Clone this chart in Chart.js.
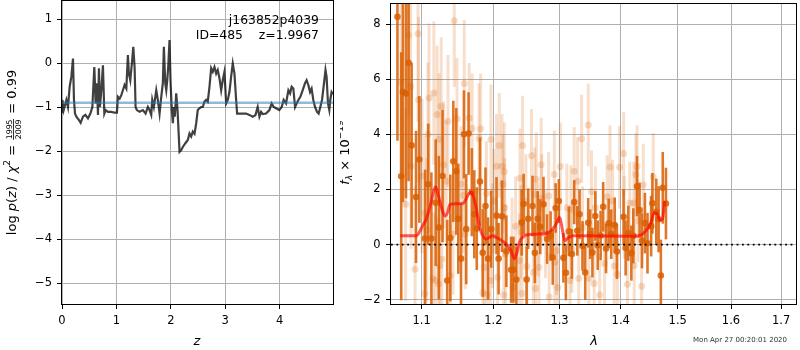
<!DOCTYPE html>
<html>
<head>
<meta charset="utf-8">
<script src="https://cdn.jsdelivr.net/npm/chart.js@4.4.0/dist/chart.umd.min.js"></script>
<style>
  html, body { margin: 0; padding: 0; background: #fff; }
  #wrap { position: relative; width: 800px; height: 350px; }
  #pz { position: absolute; left: 0; top: 0; }
  #spec { position: absolute; left: 340px; top: 0; }
</style>
</head>
<body>
<div id="wrap">
  <canvas id="pz" width="340" height="350"></canvas>
  <canvas id="spec" width="460" height="350"></canvas>
</div>
<script>
// ========== DATA: redshift fit ==========
const zRange = [0, 4.98];
const logPzRange = [-5.47, 1.42];
const zTicks = [0, 1, 2, 3, 4];
const logPzTicks = [1, 0, -1, -2, -3, -4, -5];

const zGrid = [
  0.000, 0.007, 0.031, 0.081, 0.110, 0.141, 0.172, 0.202, 0.220, 0.239,
  0.264, 0.312, 0.343, 0.385, 0.429, 0.477, 0.521, 0.558, 0.576, 0.594,
  0.618, 0.642, 0.661, 0.679, 0.697, 0.723, 0.752, 0.778, 0.802, 0.844,
  0.906, 0.967, 1.009, 1.028, 1.059, 1.090, 1.119, 1.150, 1.182, 1.211,
  1.229, 1.255, 1.292, 1.310, 1.334, 1.352, 1.376, 1.426, 1.486, 1.536,
  1.578, 1.609, 1.640, 1.659, 1.688, 1.732, 1.761, 1.793, 1.824, 1.853,
  1.872, 1.897, 1.916, 1.934, 1.952, 1.976, 1.994, 2.018, 2.037, 2.055,
  2.073, 2.099, 2.123, 2.160, 2.191, 2.220, 2.264, 2.312, 2.343, 2.374,
  2.404, 2.435, 2.466, 2.495, 2.527, 2.558, 2.587, 2.618, 2.650, 2.679,
  2.710, 2.741, 2.771, 2.802, 2.833, 2.862, 2.894, 2.925, 2.954, 2.985,
  3.017, 3.046, 3.077, 3.108, 3.138, 3.169, 3.200, 3.218, 3.261, 3.321,
  3.383, 3.444, 3.505, 3.554, 3.596, 3.628, 3.659, 3.688, 3.750, 3.811,
  3.853, 3.890, 3.934, 3.994, 4.037, 4.073, 4.117, 4.160, 4.191, 4.220,
  4.251, 4.283, 4.312, 4.343, 4.380, 4.422, 4.466, 4.495, 4.527, 4.558,
  4.587, 4.618, 4.650, 4.686, 4.716, 4.747, 4.778, 4.807, 4.842, 4.862,
  4.888, 4.912, 4.930, 4.954, 4.980
];
const logPz = [
  -1.10, -0.83, -1.06, -0.83, -0.99, -0.53, -0.30, 0.11, -0.83, -1.14,
  -1.21, -1.29, -1.35, -1.21, -1.17, -1.25, -1.14, -0.99, -0.53, -0.08,
  -0.91, -0.45, -1.17, -0.11, -0.99, -0.61, -0.04, -1.14, -1.06, -1.10,
  -1.10, -1.12, -1.12, -0.76, -0.80, -0.72, -0.61, -0.49, -0.57, 0.19,
  -0.23, -0.38, 0.11, 0.38, -0.08, -0.99, -1.06, -1.10, -1.06, -1.14,
  -0.99, -1.06, -1.17, -0.83, -0.99, -0.61, -0.83, -1.14, -0.76, -0.45,
  0.38, -0.45, -0.61, -0.38, -0.08, 0.53, -0.38, -1.06, -1.36, -0.99,
  -1.21, -0.68, -1.06, -2.01, -1.97, -1.90, -1.82, -1.74, -1.59, -1.66,
  -1.55, -1.60, -1.36, -1.06, -1.02, -0.99, -0.99, -0.87, -0.83, -0.87,
  -0.53, -0.11, -0.19, -0.08, -0.23, -0.15, -0.34, -0.61, -0.38, -0.19,
  -0.91, -0.83, -0.65, -0.30, 0.00, -0.23, -0.83, -1.14, -1.14, -1.14,
  -1.14, -1.17, -1.21, -1.18, -0.99, -1.21, -1.10, -1.15, -1.14, -1.06,
  -0.91, -0.99, -1.02, -1.06, -0.99, -0.83, -0.91, -0.61, -0.68, -0.53,
  -0.57, -0.99, -0.91, -0.83, -0.76, -0.61, -0.45, -0.38, -0.49, -0.65,
  -0.57, -0.83, -0.99, -1.10, -1.14, -0.99, -0.83, -0.53, -0.15, -0.30,
  -0.91, -1.06, -0.83, -0.65, -0.70
];
const chi2Level = -0.895;

// ========== DATA: spectrum ==========
const waveRange = [1.06, 1.731];
const fluxRange = [-2.155, 8.73];
const waveTicks = [1.1, 1.2, 1.3, 1.4, 1.5, 1.6, 1.7];
const fluxTicks = [-2, 0, 2, 4, 6, 8];

// main extraction
const specWave = [
  1.0683, 1.0732, 1.0754, 1.0794, 1.0828, 1.0868, 1.0926, 1.0970, 1.1047, 1.1089,
  1.1131, 1.1190, 1.1232, 1.1283, 1.1347, 1.1389, 1.1431, 1.1472, 1.1500, 1.1538,
  1.1579, 1.1611, 1.1644, 1.1690, 1.1725, 1.1760, 1.1806, 1.1845, 1.1885, 1.1922,
  1.1968, 1.2045, 1.2075, 1.2125, 1.2189, 1.2259, 1.2294, 1.2338, 1.2417, 1.2447,
  1.2492, 1.2517, 1.2581, 1.2617, 1.2661, 1.2700, 1.2750, 1.2805, 1.2860, 1.2894,
  1.2939, 1.2989, 1.3061, 1.3100, 1.3148, 1.3196, 1.3233, 1.3282, 1.3319, 1.3367,
  1.3411, 1.3459, 1.3491, 1.3528, 1.3576, 1.3615, 1.3663, 1.3705, 1.3753, 1.3797,
  1.3840, 1.3898, 1.3935, 1.4048, 1.4083, 1.4129, 1.4181, 1.4215, 1.4279, 1.4323,
  1.4365, 1.4416, 1.4461, 1.4525, 1.4547, 1.4616, 1.4657, 1.4697, 1.4731, 1.4788
];
const specFlux = [
  8.27, 2.48, 5.54, 5.48, 6.60, 3.60, 1.73, 3.09, 0.22, 2.19,
  0.22, 1.52, 0.62, 2.49, -1.30, 0.24, 3.02, 2.66, 0.94, -0.51,
  4.00, 0.56, 4.03, 1.90, 1.10, 0.58, 2.29, -0.30, 1.40, -0.51,
  0.56, 1.05, -0.51, 1.03, -0.24, -0.91, -0.91, -1.27, 0.80, 1.47,
  -1.27, 0.94, 1.40, -0.30, 0.94, 0.65, 1.46, 0.20, 0.31, -0.46,
  1.33, 1.58, -0.48, -1.02, 0.48, -0.34, 1.54, 0.50, 1.10, -0.05,
  -1.01, 0.79, 0.38, -0.29, 1.04, -0.02, 0.33, 1.37, -0.14, 0.77,
  0.38, 0.71, -0.25, 1.01, -0.12, 0.41, -0.31, 0.32, 2.12, 1.25,
  0.14, 0.78, 0.05, 0.67, 1.50, 1.19, 0.92, -1.12, 2.06, 1.49
];
const specErr = [
  4.5, 4.5, 4.0, 3.8, 4.3, 3.0, 2.4, 2.3, 2.5, 2.2,
  2.4, 2.3, 2.6, 2.4, 2.2, 2.3, 2.2, 2.3, 2.0, 2.0,
  1.6, 2.0, 1.5, 1.6, 1.6, 1.5, 1.6, 1.6, 1.4, 1.5,
  1.4, 1.4, 1.3, 1.3, 1.3, 1.2, 1.2, 1.2, 1.2, 1.1,
  1.2, 1.1, 1.1, 1.1, 1.0, 1.0, 1.0, 0.9, 0.9, 1.0,
  0.9, 0.8, 0.9, 1.0, 0.9, 0.9, 0.8, 0.9, 0.9, 0.9,
  1.0, 0.9, 0.9, 0.9, 0.9, 0.9, 0.9, 0.9, 0.9, 0.9,
  0.9, 1.0, 1.0, 1.0, 1.0, 1.0, 1.0, 1.0, 1.1, 1.0,
  1.0, 1.1, 1.1, 1.1, 1.1, 1.2, 1.2, 1.3, 1.3, 1.3
];

// second, faded extraction
const fadedWave = [
  1.0728, 1.0789, 1.0828, 1.0855, 1.0860, 1.0913, 1.0952, 1.0960, 1.1006, 1.1040,
  1.1047, 1.1070, 1.1085, 1.1100, 1.1153, 1.1165, 1.1186, 1.1208, 1.1228, 1.1236,
  1.1246, 1.1264, 1.1274, 1.1297, 1.1333, 1.1357, 1.1389, 1.1426, 1.1444, 1.1482,
  1.1538, 1.1569, 1.1583, 1.1597, 1.1653, 1.1695, 1.1792, 1.1815, 1.1847, 1.1871,
  1.1898, 1.1910, 1.1955, 1.1964, 1.1986, 1.2003, 1.2045, 1.2060, 1.2085, 1.2125,
  1.2140, 1.2150, 1.2159, 1.2165, 1.2178, 1.2274, 1.2285, 1.2327, 1.2382, 1.2392,
  1.2407, 1.2422, 1.2431, 1.2481, 1.2496, 1.2566, 1.2595, 1.2616, 1.2628, 1.2640,
  1.2670, 1.2680, 1.2714, 1.2722, 1.2780, 1.2829, 1.2837, 1.2918, 1.2925, 1.2952,
  1.2971, 1.3013, 1.3116, 1.3165, 1.3180, 1.3196, 1.3233, 1.3287, 1.3305, 1.3352,
  1.3368, 1.3460, 1.3470, 1.3513, 1.3556, 1.3577, 1.3648, 1.3729, 1.3771, 1.3819,
  1.3863, 1.3890, 1.3944, 1.3981, 1.4049, 1.4060, 1.4114, 1.4154, 1.4224, 1.4231,
  1.4259, 1.4280, 1.4295, 1.4358, 1.4388, 1.4563
];
const fadedFlux = [
  5.90, 1.46, 7.60, 5.75, 2.85, -0.89, 7.65, 5.26, 2.49, -1.77,
  1.15, 0.53, 4.00, 5.32, -1.23, 5.50, -1.30, 4.72, -1.43, 3.82,
  -0.77, 5.02, -0.53, 2.90, 2.30, 4.48, -1.12, 0.38, 8.12, 4.57,
  2.20, 1.79, 5.85, 0.38, 4.59, 4.21, 3.85, 4.20, -1.75, -0.82,
  1.85, -1.80, -1.30, 3.81, 0.32, 1.58, 2.84, -1.18, 3.60, 2.84,
  2.20, -1.83, 2.64, 1.34, -0.34, -0.10, -1.56, 0.67, -0.58, 2.41,
  0.46, -1.77, 3.60, 1.58, -0.79, 3.22, -1.00, 1.82, -1.59, 2.37,
  0.55, -0.82, 2.90, 1.68, 0.38, 1.76, -1.90, 2.54, -0.64, -0.22,
  -1.56, 2.83, 1.34, -1.30, 1.28, -0.15, 2.66, 2.30, -1.23, 3.84,
  0.62, 4.34, -1.23, 1.92, -1.41, 1.34, -1.83, -0.69, 1.74, 2.82,
  1.58, -0.78, -1.08, 2.81, 3.31, 0.98, -1.44, 1.51, 1.51, -0.76,
  2.54, 2.83, 0.86, -1.51, 2.16, 2.45
];
const fadedErr = [
  3.5, 3.5, 3.0, 3.0, 3.0, 3.0, 3.2, 3.0, 2.8, 2.8,
  2.8, 2.6, 2.6, 2.7, 2.4, 2.6, 2.4, 2.5, 2.4, 2.4,
  2.4, 2.5, 2.3, 2.3, 2.2, 2.4, 2.2, 2.2, 2.4, 2.2,
  2.1, 2.1, 2.3, 2.0, 2.0, 2.0, 2.0, 2.0, 2.0, 2.0,
  1.9, 1.9, 1.9, 2.0, 1.9, 1.9, 1.9, 1.9, 1.9, 1.9,
  1.8, 1.8, 1.8, 1.8, 1.8, 1.8, 1.8, 1.8, 1.7, 1.8,
  1.7, 1.7, 1.8, 1.7, 1.7, 1.7, 1.7, 1.7, 1.7, 1.7,
  1.7, 1.7, 1.7, 1.6, 1.6, 1.6, 1.6, 1.6, 1.6, 1.6,
  1.6, 1.6, 1.6, 1.6, 1.6, 1.6, 1.6, 1.6, 1.6, 1.6,
  1.5, 1.5, 1.5, 1.5, 1.5, 1.5, 1.5, 1.5, 1.5, 1.5,
  1.5, 1.5, 1.5, 1.5, 1.5, 1.5, 1.5, 1.5, 1.5, 1.5,
  1.5, 1.5, 1.5, 1.5, 1.5, 1.6
];

// best-fit template
const modelWave = [
  1.0719, 1.0934, 1.0970, 1.1017, 1.1061, 1.1131, 1.1163, 1.1190, 1.1218, 1.1269,
  1.1315, 1.1350, 1.1385, 1.1468, 1.1569, 1.1607, 1.1649, 1.1686, 1.1718, 1.1756,
  1.1788, 1.1825, 1.1894, 1.1940, 1.1986, 1.2040, 1.2085, 1.2185, 1.2259, 1.2308,
  1.2345, 1.2382, 1.2427, 1.2482, 1.2631, 1.2829, 1.2929, 1.3003, 1.3040, 1.3084,
  1.3137, 1.3218, 1.4215, 1.4318, 1.4434, 1.4521, 1.4580, 1.4638, 1.4678, 1.4725,
  1.4765
];
const modelFlux = [
  0.32, 0.32, 0.45, 0.70, 0.92, 1.58, 1.95, 2.10, 1.85, 1.34,
  1.04, 1.15, 1.46, 1.48, 1.50, 1.65, 1.85, 1.90, 1.70, 1.28,
  0.80, 0.44, 0.20, 0.26, 0.32, 0.26, 0.20, 0.02, -0.22, -0.51,
  -0.30, 0.08, 0.25, 0.35, 0.38, 0.44, 0.68, 0.98, 0.60, 0.14,
  0.25, 0.32, 0.30, 0.32, 0.50, 0.80, 1.16, 1.10, 0.89, 0.92,
  1.58
];

const stamp = 'Mon Apr 27 00:20:01 2020';

// ========== HELPERS ==========
const FONT = '"DejaVu Sans"';
const ORANGE = '217, 95, 2';

const zip = (xs, ys) => xs.map((x, i) => ({ x, y: ys[i] }));
const minus = (v, digits) => (v < 0 ? '\u2212' : '') + Math.abs(v).toFixed(digits);

function axis(type, range, ticks, digits, size, horizontal, tickPad) {
  return {
    type,
    min: range[0],
    max: range[1],
    bounds: 'data',
    afterBuildTicks: s => { s.ticks = ticks.map(v => ({ value: v })); },
    afterFit: s => {
      if (horizontal) s.height = size; else s.width = size;
      s.paddingTop = s.paddingBottom = s.paddingLeft = s.paddingRight = 0;
    },
    ticks: {
      autoSkip: false,
      maxRotation: 0,
      color: '#000',
      padding: tickPad,
      font: { family: FONT, size: 11.5 },
      callback: v => minus(v, digits),
    },
    grid: { color: '#b0b0b0', lineWidth: 1, tickColor: '#000', tickLength: 5 },
    border: { display: false },
  };
}

// vertical error bars drawn right before their own points
const errorBars = {
  id: 'errorBars',
  beforeDatasetDraw(chart, args) {
    const ds = chart.data.datasets[args.index];
    if (!ds.errors) return;
    const { ctx, chartArea: a, scales: { x, y } } = chart;
    ctx.save();
    ctx.beginPath();
    ctx.rect(a.left, a.top, a.right - a.left, a.bottom - a.top);
    ctx.clip();
    ctx.strokeStyle = ds.barColor;
    ctx.lineWidth = ds.barWidth;
    ds.data.forEach((p, i) => {
      const px = x.getPixelForValue(p.x);
      ctx.beginPath();
      ctx.moveTo(px, y.getPixelForValue(p.y - ds.errors[i]));
      ctx.lineTo(px, y.getPixelForValue(p.y + ds.errors[i]));
      ctx.stroke();
    });
    ctx.restore();
  },
};

// axes box on all four sides
const frame = {
  id: 'frame',
  afterDatasetsDraw(chart) {
    const { ctx, chartArea: a } = chart;
    ctx.save();
    ctx.strokeStyle = '#000';
    ctx.lineWidth = 1;
    ctx.strokeRect(Math.round(a.left) - 0.5, Math.round(a.top) - 0.5,
      Math.round(a.right - a.left) + 1, Math.round(a.bottom - a.top) + 1);
    ctx.restore();
  },
};

// mixed-font text runs, optionally rotated; fractions get stacked numbers
function drawRuns(ctx, runs, cx, cy, rotate) {
  const fontOf = r => `${r.italic ? 'italic ' : ''}${r.size}px ${FONT}`;
  const widthOf = r => {
    ctx.font = fontOf(r);
    if (r.frac) return Math.max(...r.frac.map(t => ctx.measureText(t).width)) + 3;
    return ctx.measureText(r.text).width;
  };
  ctx.save();
  ctx.translate(cx, cy);
  if (rotate) ctx.rotate(-Math.PI / 2);
  ctx.fillStyle = '#000';
  ctx.textBaseline = 'alphabetic';
  const total = runs.reduce((s, r) => s + widthOf(r), 0);
  let x = -total / 2;
  runs.forEach(r => {
    const w = widthOf(r);
    ctx.font = fontOf(r);
    if (r.frac) {
      ctx.textAlign = 'center';
      ctx.fillText(r.frac[0], x + w / 2, r.numY);
      ctx.fillText(r.frac[1], x + w / 2, r.denY);
      ctx.fillRect(x + 1, r.barY, w - 2, 0.8);
    } else {
      ctx.textAlign = 'left';
      ctx.fillText(r.text, x, r.dy || 0);
    }
    x += w;
  });
  ctx.restore();
}

const baseOpts = {
  responsive: false,
  animation: false,
  events: [],
  plugins: { legend: { display: false }, tooltip: { enabled: false } },
};

// ========== LEFT: log p(z) ==========
const pzText = {
  id: 'pzText',
  afterDraw(chart) {
    const ctx = chart.ctx;
    ctx.save();
    ctx.fillStyle = '#000';
    ctx.font = `12.4px ${FONT}`;
    ctx.textAlign = 'right';
    ctx.textBaseline = 'alphabetic';
    ctx.fillText('j163852p4039', 319, 23.5);
    ctx.fillText('ID=485    z=1.9967', 319, 38.5);
    ctx.restore();

    drawRuns(ctx, [{ text: 'z', size: 13, italic: true }], 197, 345, false);
    drawRuns(ctx, [
      { text: 'log ', size: 13 },
      { text: 'p', size: 13, italic: true },
      { text: '(', size: 13 },
      { text: 'z', size: 13, italic: true },
      { text: ') / ', size: 13 },
      { text: '\u03c7', size: 13, italic: true },
      { text: '2', size: 9, dy: -5.5 },
      { text: ' = ', size: 13 },
      { frac: ['1995', '2009'], size: 7.8, numY: -3.2, denY: 5.2, barY: -2.4 },
      { text: ' = 0.99', size: 13 },
    ], 15.5, 152.5, true);
  },
};

new Chart(document.getElementById('pz'), {
  type: 'scatter',
  data: {
    datasets: [
      {
        data: zip(zGrid, logPz),
        showLine: true,
        borderColor: 'rgba(0, 0, 0, 0.75)',
        borderWidth: 2.2,
        pointRadius: 0,
        clip: 0,
        order: 2,
      },
      {
        data: zip(zRange, zRange.map(() => chi2Level)),
        showLine: true,
        borderColor: 'rgba(31, 119, 180, 0.5)',
        borderWidth: 2.6,
        pointRadius: 0,
        clip: 0,
        order: 1,
      },
    ],
  },
  options: {
    ...baseOpts,
    layout: { padding: { top: 1, right: 7, left: 0, bottom: 0 } },
    scales: {
      x: axis('linear', zRange, zTicks, 0, 46, true, 5),
      y: axis('linear', logPzRange, logPzTicks, 0, 62, false, 5),
    },
  },
  plugins: [frame, pzText],
});

// ========== RIGHT: spectrum ==========
const specText = {
  id: 'specText',
  afterDraw(chart) {
    const ctx = chart.ctx;
    drawRuns(ctx, [{ text: '\u03bb', size: 13, italic: true }], 594 - 340, 345, false);
    drawRuns(ctx, [
      { text: 'f', size: 13, italic: true },
      { text: '\u03bb', size: 9, italic: true, dy: 3 },
      { text: ' \u00d7 10', size: 13 },
      { text: '\u221219', size: 9, dy: -5.5 },
    ], 8.5, 152.5, true);

    ctx.save();
    ctx.fillStyle = '#333';
    ctx.font = `7px ${FONT}`;
    ctx.textAlign = 'right';
    ctx.textBaseline = 'alphabetic';
    ctx.fillText(stamp, 787 - 340, 341.5);
    ctx.restore();
  },
};

new Chart(document.getElementById('spec'), {
  type: 'scatter',
  data: {
    datasets: [
      {
        data: zip(modelWave, modelFlux),
        showLine: true,
        borderColor: 'rgba(255, 0, 0, 0.65)',
        borderWidth: 3,
        cubicInterpolationMode: 'monotone',
        pointRadius: 0,
        clip: 0,
        order: 0,
      },
      {
        data: zip(waveRange, waveRange.map(() => 0)),
        showLine: true,
        borderColor: '#000',
        borderWidth: 1.6,
        borderDash: [1.8, 3.6],
        pointRadius: 0,
        clip: 0,
        order: 1,
      },
      {
        data: zip(specWave, specFlux),
        errors: specErr,
        barColor: `rgba(${ORANGE}, 0.85)`,
        barWidth: 2.6,
        pointRadius: 3.3,
        pointBorderWidth: 0,
        backgroundColor: `rgba(${ORANGE}, 0.85)`,
        clip: 0,
        order: 2,
      },
      {
        data: zip(fadedWave, fadedFlux),
        errors: fadedErr,
        barColor: `rgba(${ORANGE}, 0.2)`,
        barWidth: 3,
        pointRadius: 3.5,
        pointBorderWidth: 0,
        backgroundColor: `rgba(${ORANGE}, 0.22)`,
        clip: 0,
        order: 3,
      },
    ],
  },
  options: {
    ...baseOpts,
    layout: { padding: { top: 1, right: 1, left: 0, bottom: 0 } },
    scales: {
      x: axis('logarithmic', waveRange, waveTicks, 1, 46, true, 5),
      y: axis('linear', fluxRange, fluxTicks, 0, 51, false, 5.5),
    },
  },
  plugins: [errorBars, frame, specText],
});
</script>
</body>
</html>
